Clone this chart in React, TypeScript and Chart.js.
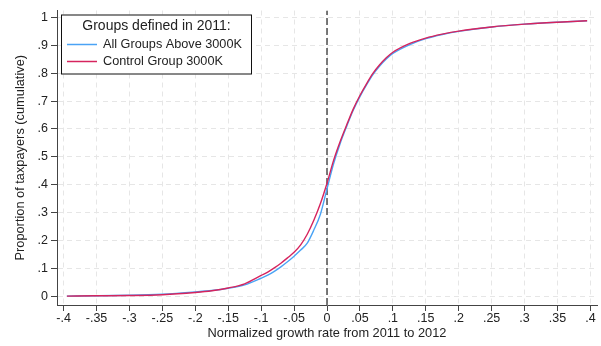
import React, { useEffect, useRef } from "react";
import { Chart, registerables } from "chart.js";

Chart.register(...registerables);

const xValues = [
  -0.395, -0.35, -0.3, -0.25, -0.2, -0.175, -0.15, -0.125, -0.1, -0.09, -0.08, -0.07, -0.06, -0.05,
  -0.04, -0.03, -0.02, -0.01, 0, 0.01, 0.02, 0.03, 0.04, 0.05, 0.06, 0.07, 0.08, 0.09, 0.1, 0.125,
  0.15, 0.175, 0.2, 0.25, 0.3, 0.35, 0.395,
];

const aboveGroups = [
  0.0, 0.001, 0.003, 0.007, 0.015, 0.02, 0.028, 0.04, 0.064, 0.075, 0.089, 0.105, 0.123, 0.143,
  0.165, 0.19, 0.237, 0.294, 0.385, 0.475, 0.548, 0.61, 0.668, 0.716, 0.758, 0.796, 0.826, 0.851,
  0.871, 0.902, 0.924, 0.939, 0.95, 0.966, 0.976, 0.983, 0.988,
];

const controlGroup = [
  0.0, 0.001, 0.002, 0.005, 0.013, 0.019, 0.029, 0.044, 0.074, 0.086, 0.101, 0.118, 0.137, 0.157,
  0.184, 0.222, 0.272, 0.332, 0.405, 0.487, 0.555, 0.615, 0.672, 0.72, 0.762, 0.8, 0.83, 0.855,
  0.875, 0.906, 0.926, 0.94, 0.951, 0.966, 0.976, 0.983, 0.988,
];

const xTickValues = [
  -0.4, -0.35, -0.3, -0.25, -0.2, -0.15, -0.1, -0.05, 0, 0.05, 0.1, 0.15, 0.2, 0.25, 0.3, 0.35, 0.4,
];
const xTickLabels = [
  "-.4", "-.35", "-.3", "-.25", "-.2", "-.15", "-.1", "-.05", "0", ".05", ".1", ".15", ".2", ".25", ".3", ".35", ".4",
];
const yTickValues = [0, 0.1, 0.2, 0.3, 0.4, 0.5, 0.6, 0.7, 0.8, 0.9, 1];
const yTickLabels = ["0", ".1", ".2", ".3", ".4", ".5", ".6", ".7", ".8", ".9", "1"];

const seriesNames = ["All Groups Above 3000K", "Control Group 3000K"];
const legendTitle = "Groups defined in 2011:";
const xAxisTitle = "Normalized growth rate from 2011 to 2012";
const yAxisTitle = "Proportion of taxpayers (cumulative)";

const X_MIN = -0.41;
const X_MAX = 0.41;
const Y_MIN = -0.032;
const Y_MAX = 1.025;

const BLUE = "#4aa3f5";
const RED = "#d6245e";
const FONT = '"Liberation Sans", Arial, sans-serif';
const TEXT = "#222222";

const boxLegend = {
  id: "boxLegend",
  afterDatasetsDraw(chart: any) {
    const ctx = chart.ctx;
    const area = chart.chartArea;
    const x = area.left + 4;
    const y = area.top + 4;
    const w = 191;
    const h = 60;
    ctx.save();
    ctx.fillStyle = "#ffffff";
    ctx.fillRect(x, y, w, h);
    ctx.strokeStyle = "#111111";
    ctx.lineWidth = 1;
    ctx.strokeRect(x + 0.5, y + 0.5, w - 1, h - 1);
    ctx.fillStyle = TEXT;
    ctx.font = `14px ${FONT}`;
    ctx.textBaseline = "middle";
    ctx.textAlign = "center";
    ctx.fillText(legendTitle, x + w / 2, y + 12);
    ctx.textAlign = "left";
    ctx.font = `12.7px ${FONT}`;
    const colors = [BLUE, RED];
    seriesNames.forEach((name, i) => {
      const yy = y + 30 + i * 17;
      ctx.strokeStyle = colors[i];
      ctx.lineWidth = 1.5;
      ctx.beginPath();
      ctx.moveTo(x + 6, yy);
      ctx.lineTo(x + 36, yy);
      ctx.stroke();
      ctx.fillStyle = TEXT;
      ctx.fillText(name, x + 42, yy);
    });
    ctx.restore();
  },
};

export default function App() {
  const canvasRef = useRef<HTMLCanvasElement | null>(null);

  useEffect(() => {
    document.body.style.margin = "0";
    const canvas = canvasRef.current;
    if (!canvas) return;
    const toPoints = (ys: number[]) => xValues.map((x, i) => ({ x, y: ys[i] }));
    const gridOpts = {
      color: "#e6e6e6",
      tickColor: "#444444",
      tickBorderDash: [],
      tickLength: 6,
      lineWidth: 1,
    };
    const borderOpts = { display: true, color: "#444444", width: 1, dash: [5, 4] };
    const chart = new Chart(canvas, {
      type: "line",
      data: {
        datasets: [
          {
            label: seriesNames[1],
            data: toPoints(controlGroup),
            borderColor: RED,
            borderWidth: 1.4,
            pointRadius: 0,
            cubicInterpolationMode: "monotone",
            order: 1,
          },
          {
            label: seriesNames[0],
            data: toPoints(aboveGroups),
            borderColor: BLUE,
            borderWidth: 1.4,
            pointRadius: 0,
            cubicInterpolationMode: "monotone",
            order: 2,
          },
          {
            label: "zero",
            data: [
              { x: 0, y: Y_MIN },
              { x: 0, y: Y_MAX },
            ],
            borderColor: "#222222",
            borderWidth: 1.2,
            borderDash: [7, 3],
            pointRadius: 0,
            order: 3,
          },
        ],
      },
      options: {
        responsive: false,
        animation: false,
        devicePixelRatio: 1,
        layout: { padding: { top: 5, right: 4, left: 0, bottom: 0 } },
        plugins: {
          legend: { display: false },
          tooltip: { enabled: false },
        },
        scales: {
          x: {
            type: "linear",
            min: X_MIN,
            max: X_MAX,
            afterBuildTicks: (s: any) => {
              s.ticks = xTickValues.map((v) => ({ value: v }));
            },
            afterFit: (s: any) => {
              s.height = 41;
            },
            ticks: {
              autoSkip: false,
              maxRotation: 0,
              padding: 0,
              color: TEXT,
              font: { family: FONT, size: 12.5 },
              callback: (_v: any, i: number) => xTickLabels[i],
            },
            grid: gridOpts,
            border: borderOpts,
            title: {
              display: true,
              text: xAxisTitle,
              color: TEXT,
              font: { family: FONT, size: 12.8 },
              padding: { top: 4, bottom: 5 },
            },
          },
          y: {
            type: "linear",
            min: Y_MIN,
            max: Y_MAX,
            afterBuildTicks: (s: any) => {
              s.ticks = yTickValues.map((v) => ({ value: v }));
            },
            afterFit: (s: any) => {
              s.width = 57;
            },
            ticks: {
              autoSkip: false,
              padding: 3,
              color: TEXT,
              font: { family: FONT, size: 12.5 },
              callback: (_v: any, i: number) => yTickLabels[i],
            },
            grid: gridOpts,
            border: borderOpts,
            title: {
              display: true,
              text: yAxisTitle,
              color: TEXT,
              font: { family: FONT, size: 12.8 },
              padding: { top: 13, bottom: 4 },
            },
          },
        },
      },
      plugins: [boxLegend],
    });
    return () => chart.destroy();
  }, []);

  return <canvas ref={canvasRef} width={601} height={346} style={{ display: "block" }} />;
}
